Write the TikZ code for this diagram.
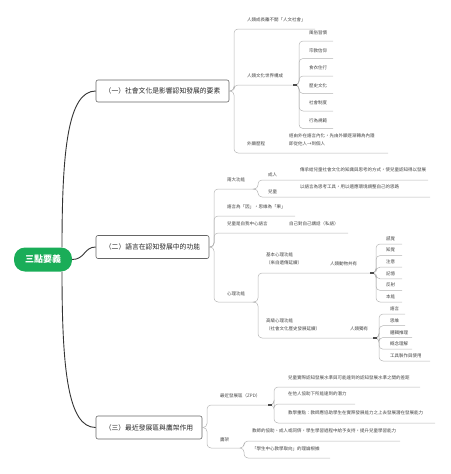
\documentclass[tikz,border=0pt]{standalone}
\usepackage{fontspec}
\setmainfont{Noto Sans CJK TC}
\definecolor{ln}{HTML}{B4B4B4}
\definecolor{tx}{HTML}{444444}
\definecolor{rootg}{HTML}{1AAD58}
\begin{document}
\begin{tikzpicture}[x=1pt,y=-1pt,
  conn/.style={draw=ln,line width=0.5pt,rounded corners=4pt},
  sm/.style={anchor=west,inner sep=0pt,text=tx,font=\fontsize{4.5}{5.5}\selectfont},
  smtwo/.style={sm,align=left,font=\fontsize{4.5}{8}\selectfont},
  box/.style={draw=black!60,line width=0.6pt,rounded corners=2pt,fill=white,text=black!85,
    font=\fontsize{6.8}{8}\selectfont,minimum height=22pt,inner sep=0pt},
  rootst/.style={fill=rootg,rounded corners=11pt,minimum width=58pt,minimum height=24pt,
    inner sep=0pt,text=white,font=\bfseries\fontsize{9}{10}\selectfont},
  mainc/.style={draw=black!80,line width=0.9pt},
  knob/.style={fill=black!70,minimum width=4pt,minimum height=1.6pt,inner sep=0pt}]
\useasboundingbox (0,0) rectangle (450,474);

% ---------- root and main branches ----------
\node[rootst] (root) at (43,259.5) {三點要義};
\node[box,minimum width=133pt] (A) at (162.5,91) {（一）社會文化是影響認知發展的要素};
\node[box,minimum width=113pt,minimum height=23pt] (B) at (152.5,247) {（二）語言在認知發展中的功能};
\node[box,minimum width=106pt,minimum height=23pt] (C) at (149,427.5) {（三）最近發展區與鷹架作用};
\draw[mainc] ([xshift=19pt]root.north) .. controls (62,150) and (68,91) .. (A.west);
\draw[mainc] (root.east) .. controls (85,259.5) and (84,247) .. (B.west);
\draw[mainc] ([xshift=19pt]root.south) .. controls (62,370) and (68,427.5) .. (C.west);

% ---------- (一) ----------
\coordinate (Aj) at (234,91);
\coordinate (a1e) at (315,29);
\coordinate (a2e) at (295,85);
\coordinate (a3e) at (388,153);
\draw[conn] (A.east) -- (Aj) |- (a1e);
\draw[conn] (A.east) -- (Aj) |- (a2e);
\draw[conn] (A.east) -- (Aj) |- (a3e);
\node[sm] (a1) at (247,20) {人類成長離不開「人文社會」};
\node[sm] (a2) at (247,76) {人類文化世界構成};
\node[sm] (a3) at (247,144) {外顯歷程};
\node[smtwo] (a3d) at (289,140) {經由外在語言內化，先由外顯逐漸轉為內隱\\即從他人→到個人};
\foreach \t/\y [count=\i] in {風俗習慣/41,宗教信仰/58.5,食衣住行/76,歷史文化/93.5,社會制度/111,行為規範/128.5}{
  \coordinate (a2l\i) at (333,\y);
  \draw[conn] (a2e) -- ++(4,0) |- (a2l\i);
  \node[sm] (a2t\i) at (309,\y-8) {\t};
}
\node[knob] (a2k) at (a2e) {};

% ---------- (二) ----------
\coordinate (Bj) at (214,247);
\coordinate (b1e) at (255,189);
\coordinate (b2e) at (295,216);
\coordinate (b3e) at (348,233);
\coordinate (b4e) at (255,302);
\draw[conn] (B.east) -- (Bj) |- (b1e);
\draw[conn] (B.east) -- (Bj) |- (b2e);
\draw[conn] (B.east) -- (Bj) |- (b3e);
\draw[conn] (B.east) -- (Bj) |- (b4e);
\node[sm] (b1) at (227,180) {兩大功能};
\node[sm] (b2) at (227,207) {語言為「因」，思維為「果」};
\node[sm] (b3) at (227,224) {兒童是自我中心語言};
\node[sm] (b3d) at (289,224) {自己對自己講話（私語）};
\node[sm] (b4) at (227,294) {心理功能};

\coordinate (b1ae) at (428,180);
\coordinate (b1be) at (430,197);
\draw[conn] (b1e) -- ++(3,0) |- (b1ae);
\draw[conn] (b1e) -- ++(3,0) |- (b1be);
\node[sm] (b1a) at (268,175) {成人};
\node[sm] (b1ad) at (300,169.5) {傳承給兒童社會文化的知識與思考的方式，使兒童認知得以發展};
\node[sm] (b1b) at (268,192) {兒童};
\node[sm] (b1bd) at (300,186.5) {以語言為思考工具，用以適應環境調整自己的思路};

\coordinate (b4ae) at (372,273);
\coordinate (b4be) at (375,338);
\draw[conn] (b4e) -- ++(3,0) |- (b4ae);
\draw[conn] (b4e) -- ++(3,0) |- (b4be);
\node[smtwo] (b4a) at (266,259) {基本心理功能\\（來自遺傳延續）};
\node[sm] (b4an) at (330,264) {人類動物共有};
\node[smtwo] (b4b) at (266,325) {高級心理功能\\（社會文化歷史發展延續）};
\node[sm] (b4bn) at (350,329) {人類獨有};
\foreach \t/\y [count=\i] in {感覺/244,知覺/255.6,注意/267.2,記憶/278.8,反射/290.4,本能/302}{
  \coordinate (b4al\i) at (402,\y);
  \draw[conn] (b4ae) -- ++(4,0) |- (b4al\i);
  \node[sm] (b4at\i) at (386,\y-5.5) {\t};
}
\foreach \t/\y/\xe [count=\i] in {語言/314/405,思維/325.7/405,邏輯推理/337.5/412,概念理解/349.2/412,工具製作與使用/361/430}{
  \coordinate (b4bl\i) at (\xe,\y);
  \draw[conn] (b4be) -- ++(4,0) |- (b4bl\i);
  \node[sm] (b4bt\i) at (390,\y-5) {\t};
}
\node[knob] (b4ak) at (b4ae) {};
\node[knob] (b4bk) at (b4be) {};

% ---------- (三) ----------
\coordinate (Cj) at (207,427.5);
\coordinate (c1e) at (270,405);
\coordinate (c2e) at (240,448);
\draw[conn] (C.east) -- (Cj) |- (c1e);
\draw[conn] (C.east) -- (Cj) |- (c2e);
\node[sm] (c1) at (220,396) {最近發展區（ZPD）};
\node[sm] (c2) at (220,440) {鷹架};

\coordinate (c1ae) at (420,387);
\coordinate (c1be) at (355,404);
\coordinate (c1ce) at (435,423);
\draw[conn] (c1e) -- ++(4,0) |- (c1ae);
\draw[conn] (c1e) -- ++(4,0) |- (c1be);
\draw[conn] (c1e) -- ++(4,0) |- (c1ce);
\node[sm] (c1a) at (288,378) {兒童實際認知發展水準與可能達到的認知發展水準之間的差距};
\node[sm] (c1b) at (288,394) {在他人協助下所能達到的潛力};
\node[sm] (c1c) at (288,413) {教學重點：教師應協助學生在實際發展能力之上去發展潛在發展能力};
\node[knob] (c1k) at (c1e) {};

\coordinate (c2ae) at (400,441);
\coordinate (c2be) at (330,458);
\draw[conn] (c2e) -- ++(4,0) |- (c2ae);
\draw[conn] (c2e) -- ++(4,0) |- (c2be);
\node[sm] (c2a) at (252,431) {教師的協助、成人或同儕，學生學習過程中給予支持，提升兒童學習能力};
\node[sm] (c2b) at (252,449) {「學生中心教學取向」的理論根據};
\end{tikzpicture}
\end{document}
